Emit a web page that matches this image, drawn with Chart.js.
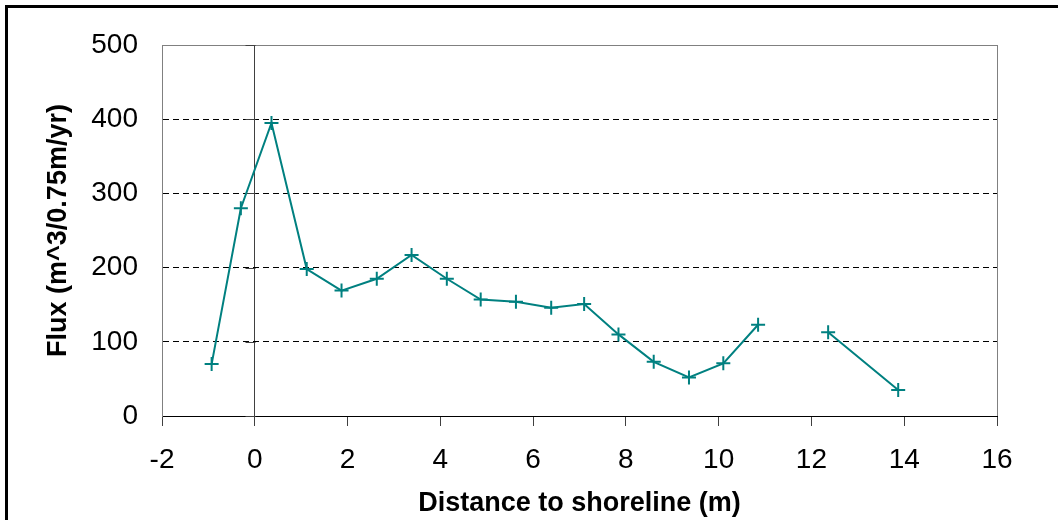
<!DOCTYPE html>
<html>
<head>
<meta charset="utf-8">
<script src="https://cdn.jsdelivr.net/npm/chart.js@4/dist/chart.umd.min.js"></script>
<style>
  body { margin: 0; background: #fff; overflow: hidden; }
  #frame { position: absolute; left: 5px; top: 5px; width: 1100px; height: 600px; border: 3px solid #000; }
  #c { position: absolute; left: 0; top: 0; }
</style>
</head>
<body>
<div id="frame"></div>
<canvas id="c" width="1058" height="520"></canvas>
<script>
// distance to shoreline (m) and flux; null = missing point (gap in the line)
const distance = [-0.93, -0.30, 0.36, 1.12, 1.87, 2.63, 3.38, 4.14, 4.87, 5.63, 6.39, 7.10, 7.84, 8.60, 9.36, 10.10, 10.85, 11.60, 12.36, 13.87];
const flux     = [70, 280, 395, 198, 169, 185, 217, 185, 157, 154, 146, 151, 110, 73, 52, 71, 123, null, 113, 35];
const yTicks = [0, 100, 200, 300, 400, 500];
const xTicks = [-2, 0, 2, 4, 6, 8, 10, 12, 14, 16];

const FONT = "'Liberation Sans', Arial, sans-serif";

// little tick marks on the y axis line that crosses at x = 0
const zeroAxisTicks = {
    id: 'zeroAxisTicks',
    beforeDatasetsDraw(chart) {
        const ctx = chart.ctx;
        const xs = chart.scales.x, ys = chart.scales.y;
        const x0 = Math.round(xs.getPixelForValue(0)) + 0.5;
        ctx.save();
        ctx.strokeStyle = '#404040';
        ctx.lineWidth = 1;
        yTicks.forEach(function(v) {
            const yp = Math.round(ys.getPixelForValue(v)) + 0.5;
            ctx.beginPath();
            ctx.moveTo(x0 - 10, yp);
            ctx.lineTo(x0, yp);
            ctx.stroke();
        });
        ctx.restore();
    }
};

var points = distance.map(function(d, i) { return {x: d, y: flux[i]}; });

new Chart(document.getElementById('c'), {
    type: 'scatter',
    data: {
        datasets: [{
            data: points,
            showLine: true,
            spanGaps: false,
            borderColor: '#008080',
            borderWidth: 2,
            pointStyle: 'cross',
            pointRadius: 7,
            pointBorderWidth: 2,
            pointBorderColor: '#008080',
            pointBackgroundColor: '#008080'
        }]
    },
    options: {
        responsive: false,
        animation: false,
        devicePixelRatio: 1,
        layout: { padding: { top: 45, right: 61, left: 0, bottom: 0 } },
        plugins: { legend: { display: false }, tooltip: { enabled: false } },
        scales: {
            x: {
                type: 'linear',
                min: xTicks[0],
                max: xTicks[xTicks.length - 1],
                afterBuildTicks: function(scale) { scale.ticks = xTicks.map(function(v) { return {value: v}; }); },
                afterFit: function(scale) { scale.height = 104; },
                ticks: { color: '#000', padding: 17, font: { family: FONT, size: 28 } },
                grid: {
                    tickLength: 10,
                    tickColor: '#404040',
                    color: function(c) {
                        if (!c.tick) return 'transparent';
                        if (c.tick.value === 0) return '#404040';
                        if (c.tick.value === 16) return '#808080';
                        return 'transparent';
                    }
                },
                border: { color: '#000', width: 1 },
                title: {
                    display: true,
                    text: 'Distance to shoreline (m)',
                    color: '#000',
                    padding: { top: 0, bottom: 3 },
                    font: { family: FONT, size: 27, weight: 'bold', lineHeight: 1 }
                }
            },
            y: {
                min: 0,
                max: 500,
                afterBuildTicks: function(scale) { scale.ticks = yTicks.map(function(v) { return {value: v}; }); },
                afterFit: function(scale) { scale.width = 162; },
                ticks: { color: '#000', padding: 24, font: { family: FONT, size: 28 } },
                grid: {
                    drawTicks: false,
                    color: function(c) {
                        if (!c.tick) return 'transparent';
                        if (c.tick.value === 500) return '#808080';
                        if (c.tick.value === 0) return 'transparent';
                        return '#000';
                    }
                },
                border: {
                    color: '#808080',
                    width: 1,
                    dash: function(c) {
                        return (c.tick && c.tick.value > 0 && c.tick.value < 500) ? [6, 4] : [];
                    }
                },
                title: {
                    display: true,
                    text: 'Flux (m^3/0.75m/yr)',
                    color: '#000',
                    padding: { top: 45, bottom: 0 },
                    font: { family: FONT, size: 27, weight: 'bold', lineHeight: 1 }
                }
            }
        }
    },
    plugins: [zeroAxisTicks]
});
</script>
</body>
</html>
